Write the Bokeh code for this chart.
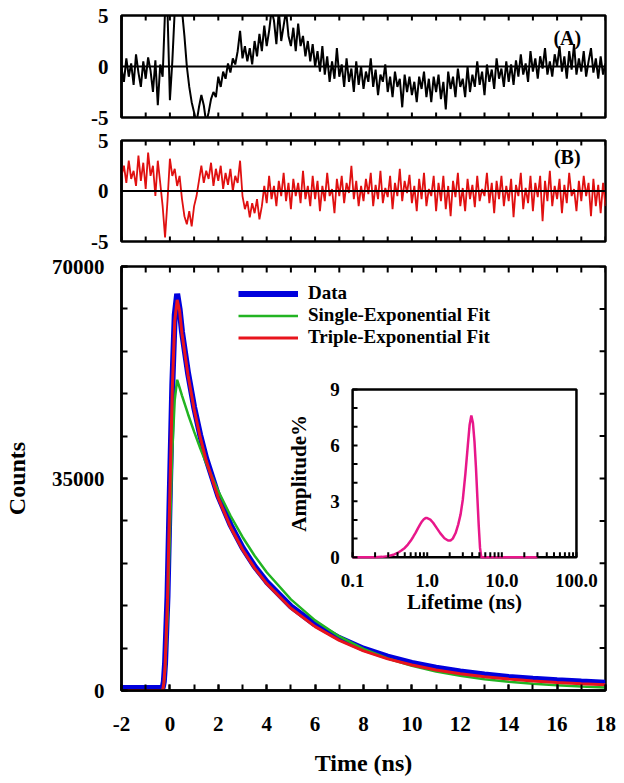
import numpy as np
from bokeh.plotting import figure
from bokeh.layouts import column
from bokeh.models import (Range1d, SingleIntervalTicker, FixedTicker,
                          Span, Legend, LegendItem, LogScale, Label, BasicTickFormatter)
from bokeh.embed import file_html
from bokeh.resources import INLINE
from bokeh.core.properties import value

FONT = "Liberation Serif"

# ---------------- data ----------------
decay_time = [-2.0, -1.0, -0.3, -0.25, -0.2, -0.1, 0.0, 0.1, 0.2, 0.3, 0.4, 0.5, 0.75, 1.0,
              1.25, 1.5, 2.0, 2.5, 3.0, 3.5, 4.0, 5.0, 6.0, 7.0, 8.0, 9.0, 10.0, 11.0, 12.0,
              13.0, 14.0, 15.0, 16.0, 17.0, 18.0]
counts_data = [400, 400, 400, 1500, 4500, 15500, 33500, 50500, 62000, 65500, 63000, 59200,
               52400, 46800, 42200, 38300, 32100, 27400, 23600, 20500, 17950, 13900, 10900,
               8650, 6900, 5580, 4550, 3750, 3130, 2640, 2250, 1930, 1680, 1470, 1300]
counts_single_fit = [0, 0, 0, 1000, 3300, 12000, 26000, 39500, 48000, 51300, 50000, 48690,
                     45610, 42730, 40030, 37500, 32910, 28880, 25350, 22240, 19520, 15040,
                     11580, 8920, 6870, 5290, 4080, 3140, 2420, 1860, 1440, 1100, 850, 655, 505]
counts_triple_fit = [0, 0, 0, 1200, 4000, 15000, 33000, 50000, 61000, 64500, 62700, 58900,
                     52060, 46480, 41860, 37960, 31770, 27040, 23280, 20200, 17640, 13570,
                     10550, 8280, 6550, 5220, 4200, 3400, 2780, 2280, 1890, 1580, 1330, 1120, 960]

# residuals, one value every 0.1 ns starting at -2.0 ns
resid_start = -2.0
resid_step = 0.1
resid_single = [
    -0.2, -1.5, 0.8, -1.0, 0.3, -1.8, 1.2, -0.6, -2.0, 0.5,
    -1.2, 0.9, -0.4, -2.5, 0.6, -3.8, 0.2, -1.0, 5.5, 5.5,
    -3.3, 0.5, 5.5, 5.5, 5.5, 5.5, 3.0, 0.0, -2.0, -3.5,
    -4.5, -5.5, -4.0, -2.8, -3.8, -5.5, -4.5, -3.2, -2.5, -3.0,
    -1.0, -2.0, -0.5, -1.2, 0.3, -0.6, 0.8, 0.2, 1.5, 3.5,
    0.8, 2.0, 0.5, 1.8, 0.2, 2.5, 1.0, 3.2, 1.5, 4.0,
    2.0, 3.5, 5.5, 4.5, 2.2, 5.5, 2.5, 4.0, 5.5, 3.0,
    2.0, 3.8, 1.5, 4.2, 2.0, 3.0, 1.0, 2.5, 0.5, 2.2,
    0.0, 1.5, -0.5, 2.0, -0.8, 1.0, -1.5, 0.5, -1.2, 1.8,
    -1.0, 0.2, -2.0, 0.8, -1.5, -0.2, -2.5, 0.5, -1.8, 0.0,
    -2.2, -0.5, -1.5, 0.8, -2.0, -0.3, -2.8, -0.8, -1.5, 0.2,
    -2.5, -1.0, -3.0, -0.5, -2.0, -1.2, -4.0, -0.8, -2.5, -1.0,
    -2.8, -1.5, -3.5, -1.0, -2.2, -0.5, -3.0, -1.2, -3.5, -1.0,
    -2.5, -0.8, -3.2, -1.5, -4.2, -0.5, -2.2, -1.0, -3.0, -0.2,
    -2.0, -1.2, -3.0, 0.0, -2.5, -0.8, -2.0, 0.5, -1.8, -0.5,
    -2.8, 0.2, -1.5, -0.3, -2.2, 0.8, -1.2, -0.2, -2.0, 0.5,
    -1.5, 0.2, -1.8, 0.6, -1.0, 1.2, -0.8, 0.3, -1.5, 1.5,
    -0.5, 0.8, -1.2, 1.0, -0.2, 1.8, -0.8, 0.5, -1.0, 1.2,
    0.0, 2.0, -0.5, 1.0, -1.2, 1.5, -0.3, 2.2, -0.8, 0.8,
    -0.5, 1.5, -1.0, 0.5, 1.8, -0.6, 0.8, -1.2, 1.0, -0.8,
    0.3]
resid_triple = [
    1.5, 2.5, 0.8, 3.0, 1.2, 2.0, 0.5, 3.5, 1.0, 2.8,
    0.2, 3.8, 1.5, 2.5, -0.5, 3.0, 0.8, -1.5, -4.6, -1.0,
    3.2, 1.5, 2.2, 0.5, 1.5, -0.8, -2.5, -3.3, -2.0, -3.5,
    -1.5, -0.5, 1.0, 2.5, 0.8, 2.0, 1.2, 2.8, 0.5, 2.2,
    1.0, 2.5, 0.2, 1.8, 0.6, 2.2, 0.0, 1.5, 0.8, 3.0,
    -0.5, -1.8, -1.0, -2.6, -1.2, -2.2, -0.8, -2.8, -1.5, 0.5,
    -1.2, 1.5, -0.8, 0.5, -1.5, 1.0, -0.5, 1.8, -1.0, 0.8,
    -1.8, 1.2, -0.5, 0.8, -1.2, 2.0, -0.8, 0.5, -1.5, 1.5,
    -0.8, 1.0, -2.0, 0.5, -1.0, 1.8, -0.5, 0.2, -2.2, 1.2,
    -0.5, 1.5, -1.2, 0.8, -0.2, 2.5, -0.8, 1.0, -1.5, 0.5,
    -1.0, 1.2, -0.3, 1.8, -1.5, 0.6, -0.8, 2.0, -1.2, 0.3,
    -0.6, 1.5, -1.8, 0.8, -0.5, 2.2, -1.0, 1.0, -0.2, 1.6,
    -1.2, 0.5, -2.0, 1.2, -0.8, 1.8, -1.5, 0.2, -0.5, 1.5,
    -2.0, 0.8, -1.0, 1.5, -1.8, 0.5, -2.5, 1.0, -0.6, 1.8,
    -1.5, 0.3, -2.0, 1.2, -0.8, 0.6, -1.6, 1.5, -1.0, 0.2,
    -0.5, 1.8, -1.2, 0.8, -2.2, 1.0, -0.8, 1.5, -1.5, 0.5,
    -1.0, 1.2, -2.6, 0.6, -0.5, 1.8, -1.8, 0.3, -1.2, 1.5,
    -2.0, 0.8, -0.6, 1.5, -3.0, 1.0, -1.0, 2.0, -1.5, 0.5,
    -0.8, 1.2, -2.2, 0.6, -1.2, 1.8, -0.5, 0.2, -2.0, 1.0,
    -1.0, 1.5, -0.5, 0.8, -2.5, 1.2, -1.5, 0.6, -2.2, 0.8,
    -1.5]

# lifetime distribution (inset)
lifetime_ns = [0.1, 0.2, 0.25, 0.3, 0.35, 0.4, 0.45, 0.5, 0.55, 0.6, 0.65, 0.7, 0.75, 0.8,
               0.85, 0.9, 0.95, 1.0, 1.1, 1.2, 1.35, 1.5, 1.7, 1.9, 2.05, 2.2, 2.4, 2.6, 2.8,
               3.0, 3.25, 3.5, 3.7, 3.9, 4.1, 4.3, 4.5, 4.7, 4.9, 5.1, 5.3, 6.0, 10.0, 20.0, 30.0]
amplitude_pct = [0, 0, 0.02, 0.06, 0.13, 0.23, 0.36, 0.5, 0.68, 0.88, 1.1, 1.32, 1.55, 1.75,
                 1.92, 2.04, 2.1, 2.1, 2.02, 1.85, 1.55, 1.28, 1.02, 0.9, 0.9, 1.0, 1.3, 1.75,
                 2.3, 3.1, 4.5, 6.0, 7.1, 7.6, 7.2, 6.2, 4.8, 3.2, 1.7, 0.5, 0.0, 0, 0, 0, 0]

time_ticks_all = list(range(-2, 19))
count_ticks = [0, 35000, 70000]
count_minor_ticks = [7000 * k for k in range(11)]
resid_ticks = [-5, 0, 5]
inset_amp_ticks = [0, 3, 6, 9]
inset_amp_minor = list(range(10))
inset_tau_labels = ["0.1", "1.0", "10.0", "100.0"]
inset_tau_label_pos = [0.1, 1.0, 10.0, 100.0]
inset_tau_ticks = [m * 10.0 ** e for e in (-1, 0, 1) for m in range(1, 10)] + [100.0]

# ---------------- layout constants ----------------
W = 624
LEFT, RIGHT = 111, 19
XR = (-2, 18)
FRAME_W = W - LEFT - RIGHT


def style_axis(ax, tick_in=6, standoff=14, size="21px"):
    ax.axis_line_color = "black"
    ax.axis_line_width = 2.5
    ax.major_tick_line_color = "black"
    ax.minor_tick_line_color = "black"
    ax.major_tick_line_width = 2
    ax.minor_tick_line_width = 2
    ax.major_tick_in = tick_in
    ax.minor_tick_in = tick_in
    ax.major_tick_out = 0
    ax.minor_tick_out = 0
    ax.major_label_text_font = FONT
    ax.major_label_text_font_style = "bold"
    ax.major_label_text_color = "black"
    ax.major_label_text_font_size = size
    ax.major_label_standoff = standoff


def tick_marks(f, positions, side, length_px, xr, yr, frame_h):
    """Inward tick marks along an unlabeled frame edge."""
    if side in ("top", "bottom"):
        dy = length_px * (yr[1] - yr[0]) / frame_h
        y0 = yr[1] if side == "top" else yr[0]
        y1 = y0 - dy if side == "top" else y0 + dy
        f.segment(x0=positions, y0=y0, x1=positions, y1=y1, line_color="black", line_width=2)
    else:
        dx = length_px * (xr[1] - xr[0]) / FRAME_W
        f.segment(x0=xr[1], y0=positions, x1=xr[1] - dx, y1=positions,
                  line_color="black", line_width=2)


def resid_panel(vals, color, lw, tag, tag_x, tag_y, top, frame_h, bottom):
    f = figure(width=W, height=top + frame_h + bottom, x_range=Range1d(*XR),
               y_range=Range1d(-5, 5), output_backend="svg", toolbar_location=None,
               title=None, x_axis_location=None,
               min_border_left=LEFT, min_border_right=RIGHT,
               min_border_top=top, min_border_bottom=bottom)
    f.grid.visible = False
    f.outline_line_color = "black"
    f.outline_line_width = 2.5
    f.outline_line_alpha = 1
    ya = f.yaxis[0]
    ya.ticker = FixedTicker(ticks=resid_ticks, minor_ticks=[])
    ya.major_label_overrides = {-5: "-5"}
    style_axis(ya, tick_in=0, standoff=13)
    t = np.round(resid_start + resid_step * np.arange(len(vals)), 2)
    f.line(t, vals, line_color=color, line_width=lw)
    f.add_layout(Span(location=0, dimension="width", line_color="black", line_width=2))
    tick_marks(f, time_ticks_all, "top", 5, XR, (-5, 5), frame_h)
    tick_marks(f, time_ticks_all, "bottom", 5, XR, (-5, 5), frame_h)
    f.add_layout(Label(x=tag_x, y=tag_y, text=tag, text_font=FONT, text_font_style="bold",
                       text_font_size="20px", text_align="center", text_baseline="middle",
                       text_color="black"))
    return f


pa = resid_panel(resid_single, "black", 2, "(A)", 16.42, 2.8, 15, 102, 11)
pb = resid_panel(resid_triple, "#E01010", 1.8, "(B)", 16.42, 3.4, 12, 101, 13)

# ---------------- main decay plot ----------------
M_TOP, M_FRAME, M_BOTTOM = 12, 424, 88
YR = (0, 70000)
p = figure(width=W, height=M_TOP + M_FRAME + M_BOTTOM, x_range=Range1d(*XR),
           y_range=Range1d(*YR), output_backend="svg", toolbar_location=None, title=None,
           min_border_left=LEFT, min_border_right=RIGHT, min_border_top=M_TOP,
           min_border_bottom=M_BOTTOM)
p.grid.visible = False
p.outline_line_color = "black"
p.outline_line_width = 2.5
p.outline_line_alpha = 1

xa = p.xaxis[0]
xa.ticker = SingleIntervalTicker(interval=2, num_minor_ticks=2)
xa.major_label_overrides = {-2: "-2"}
style_axis(xa, tick_in=6, standoff=26)
ya = p.yaxis[0]
ya.ticker = FixedTicker(ticks=count_ticks, minor_ticks=count_minor_ticks)
ya.formatter = BasicTickFormatter(use_scientific=False)
style_axis(ya, tick_in=6, standoff=17)
for ax, lab in ((xa, "Time (ns)"), (ya, "Counts")):
    ax.axis_label = lab
    ax.axis_label_text_font = FONT
    ax.axis_label_text_font_style = "bold"
    ax.axis_label_text_font_size = "24px"
    ax.axis_label_text_color = "black"
xa.axis_label_standoff = 16
ya.axis_label_standoff = 19

tick_marks(p, time_ticks_all, "top", 6, XR, YR, M_FRAME)
tick_marks(p, count_minor_ticks, "right", 6, XR, YR, M_FRAME)

r_data = p.line(decay_time, counts_data, line_color="#0000DD", line_width=6)
r_single = p.line(decay_time, counts_single_fit, line_color="#22B422", line_width=2.5)
r_triple = p.line(decay_time, counts_triple_fit, line_color="#E8141C", line_width=3)

legend = Legend(items=[LegendItem(label="Data", renderers=[r_data]),
                       LegendItem(label="Single-Exponential Fit", renderers=[r_single]),
                       LegendItem(label="Triple-Exponential Fit", renderers=[r_triple])],
                location=(117, 342), orientation="vertical", padding=0, margin=0, spacing=0,
                glyph_width=60, glyph_height=21, label_height=21, label_standoff=10,
                label_text_font=FONT, label_text_font_style="bold", label_text_font_size="19px",
                label_text_color="black", border_line_alpha=0, background_fill_alpha=0)
p.add_layout(legend)

# ---------------- inset (lifetime distribution) ----------------
ix0, ix1 = 7.55, 16.8        # inset box in main x units
iy0, iy1 = 22000, 49700      # inset box in main y units
tau_lo, tau_hi = 0.1, 100.0
amp_lo, amp_hi = 0.0, 9.0
ndec = np.log10(tau_hi) - np.log10(tau_lo)
units_per_dec = (ix1 - ix0) / ndec
lo = np.log10(tau_lo) - (ix0 - XR[0]) / units_per_dec
hi = np.log10(tau_hi) + (XR[1] - ix1) / units_per_dec
units_per_amp = (iy1 - iy0) / (amp_hi - amp_lo)
alo = amp_lo - (iy0 - YR[0]) / units_per_amp
ahi = amp_hi + (YR[1] - iy1) / units_per_amp
p.extra_x_ranges = {"tau": Range1d(10 ** lo, 10 ** hi)}
p.extra_x_scales = {"tau": LogScale()}
p.extra_y_ranges = {"amp": Range1d(alo, ahi)}
px_per_dec = units_per_dec * FRAME_W / (XR[1] - XR[0])
px_per_amp = units_per_amp * M_FRAME / (YR[1] - YR[0])


def tau_shift(px):
    return tau_lo * 10 ** (px / px_per_dec)


kw = dict(x_range_name="tau", y_range_name="amp")
p.quad(left=tau_lo, right=tau_hi, bottom=amp_lo, top=amp_hi, fill_color="white",
       line_color="black", line_width=2.5, **kw)
p.line(lifetime_ns, amplitude_pct, line_color="#E8178A", line_width=2.5, **kw)
tick_len_amp = 5 / px_per_amp
p.segment(x0=inset_tau_ticks, y0=amp_lo, x1=inset_tau_ticks, y1=amp_lo + tick_len_amp,
          line_color="black", line_width=2, **kw)
p.segment(x0=tau_lo, y0=inset_amp_minor, x1=tau_shift(5), y1=inset_amp_minor,
          line_color="black", line_width=2, **kw)
txt = dict(text_font=value(FONT), text_font_style="bold", text_color="black")
p.text(x=inset_tau_label_pos, y=[amp_lo - 23 / px_per_amp] * 4, text=inset_tau_labels,
       text_font_size=value("19px"), text_align="center", text_baseline="middle", **txt, **kw)
p.text(x=[tau_shift(-13)] * 4, y=inset_amp_ticks, text=[str(v) for v in inset_amp_ticks],
       text_font_size=value("19px"), text_align="right", text_baseline="middle", **txt, **kw)
p.text(x=[np.sqrt(tau_lo * tau_hi)], y=[amp_lo - 45 / px_per_amp], text=["Lifetime (ns)"],
       text_font_size=value("21px"), text_align="center", text_baseline="middle", **txt, **kw)
p.text(x=[tau_shift(-55)], y=[(amp_lo + amp_hi) / 2], text=["Amplitude%"], angle=np.pi / 2,
       text_font_size=value("21px"), text_align="center", text_baseline="middle", **txt, **kw)

layout = column(pa, pb, p)
open("out.html", "w").write(file_html(layout, INLINE))
